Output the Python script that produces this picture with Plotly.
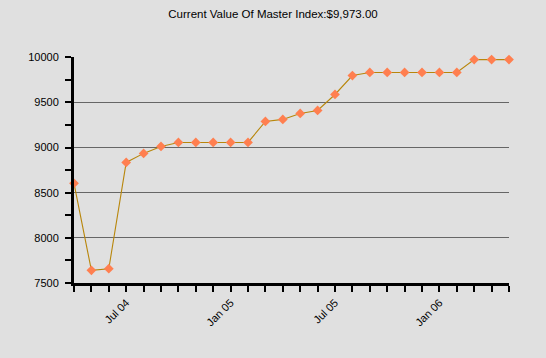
import plotly.graph_objects as go

months = ["Apr 04", "May 04", "Jun 04", "Jul 04", "Aug 04", "Sep 04", "Oct 04", "Nov 04",
          "Dec 04", "Jan 05", "Feb 05", "Mar 05", "Apr 05", "May 05", "Jun 05", "Jul 05",
          "Aug 05", "Sep 05", "Oct 05", "Nov 05", "Dec 05", "Jan 06", "Feb 06", "Mar 06",
          "Apr 06", "May 06"]
values = [8603, 7640, 7658, 8835, 8935, 9012, 9056, 9056, 9056, 9056, 9056, 9289, 9311,
          9377, 9410, 9587, 9797, 9831, 9831, 9831, 9831, 9831, 9831, 9973, 9973, 9973]
label_months = ["Jul 04", "Jan 05", "Jul 05", "Jan 06"]
y_ticks = [7500, 8000, 8500, 9000, 9500, 10000]
y_labels = ["7500", "8000", "8500", "9000", "9500", "10000"]
title_text = "Current Value Of Master Index:$9,973.00"

x_idx = list(range(len(months)))
tick_pos = [months.index(m) for m in label_months]

fig = go.Figure()
fig.add_trace(go.Scatter(
    x=x_idx, y=values, mode="lines+markers",
    line=dict(color="#B8860B", width=1.1),
    marker=dict(symbol="diamond", size=7.5, color="#FF7F50"),
    cliponaxis=False, showlegend=False, hoverinfo="skip",
))

fig.update_layout(
    width=546, height=358,
    paper_bgcolor="#E0E0E0", plot_bgcolor="#E0E0E0",
    margin=dict(l=74, r=37, t=57, b=75, autoexpand=False),
    font=dict(family="Liberation Sans, Arial, sans-serif", size=11, color="black"),
    title=dict(text=title_text, x=0.5, xanchor="center", y=0.96, yanchor="middle",
               font=dict(size=11.5, color="black")),
    xaxis=dict(
        range=[0, len(months) - 1], showgrid=False, zeroline=False, automargin=False,
        showline=True, linecolor="black", linewidth=3,
        tickmode="array", tickvals=tick_pos, ticktext=label_months,
        tickangle=-45, ticks="outside", ticklen=6, tickwidth=2, tickcolor="black",
        minor=dict(dtick=1, tick0=0, ticks="outside", ticklen=6, tickwidth=2,
                   tickcolor="black", showgrid=False),
    ),
    yaxis=dict(
        range=[7500, 10002], showgrid=True, gridcolor="#666666", gridwidth=1,
        zeroline=False, showline=True, linecolor="black", linewidth=3, automargin=False,
        tickmode="array", tickvals=y_ticks, ticktext=y_labels, ticklabelstandoff=4,
        ticks="outside", ticklen=6, tickwidth=2, tickcolor="black",
        minor=dict(dtick=250, tick0=7500, ticks="outside", ticklen=6, tickwidth=2,
                   tickcolor="black", showgrid=False),
    ),
)

fig.write_html("out.html", config={"displayModeBar": False},
               post_script="document.body.style.margin='0';document.body.style.background='#E0E0E0';")
